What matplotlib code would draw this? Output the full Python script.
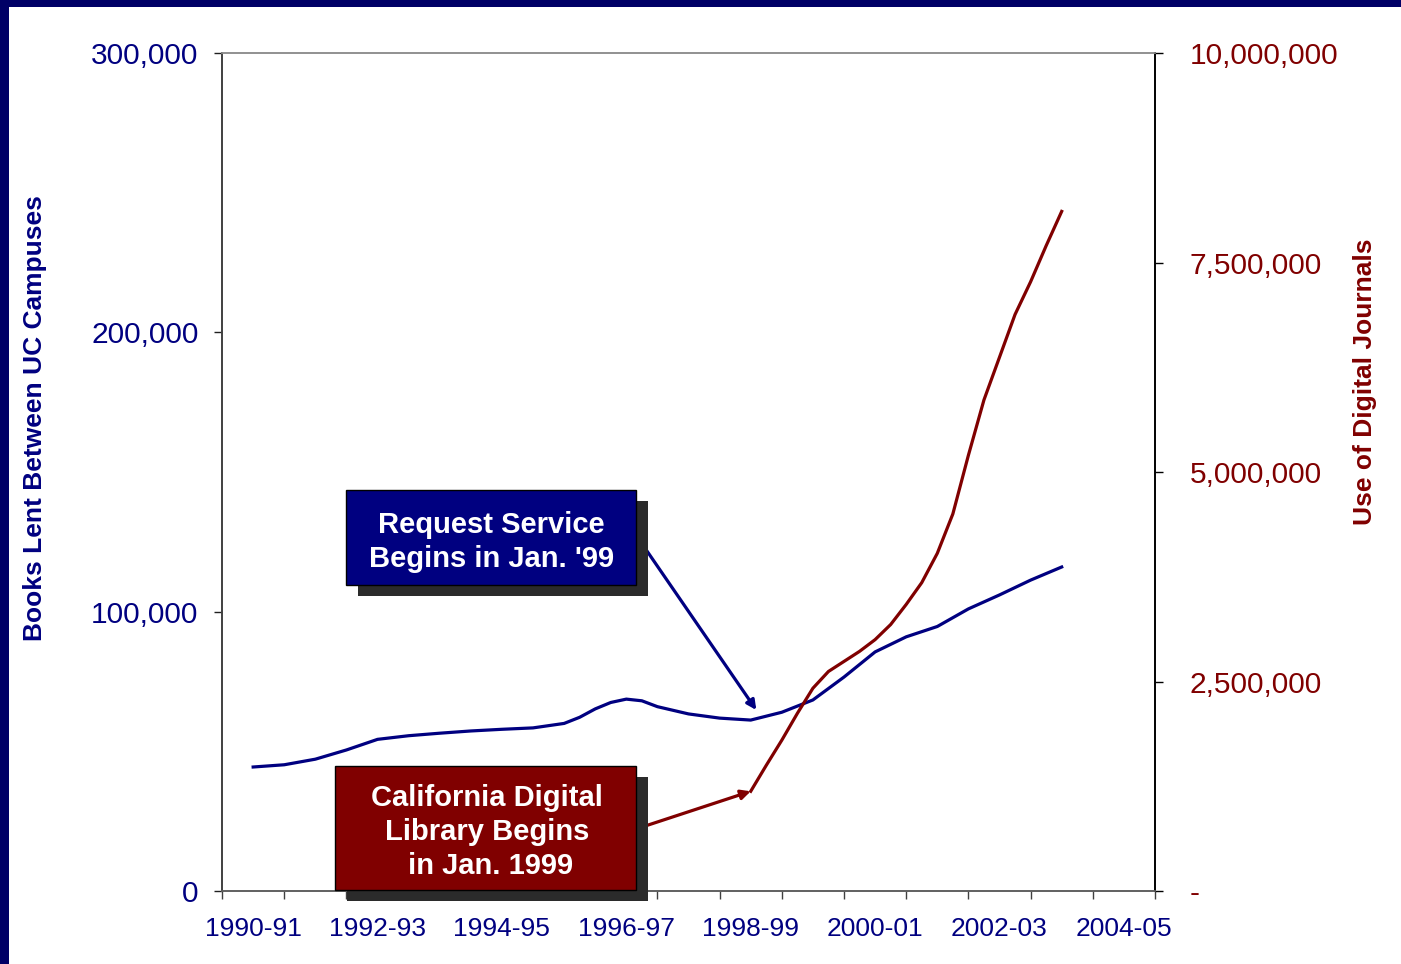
import matplotlib.pyplot as plt
from matplotlib.patches import Rectangle
from matplotlib.ticker import FuncFormatter
import numpy as np

plt.rcParams['font.family'] = ['Liberation Sans', 'DejaVu Sans']

# fiscal year categories
years = ['1990-91', '1991-92', '1992-93', '1993-94', '1994-95', '1995-96', '1996-97',
         '1997-98', '1998-99', '1999-00', '2000-01', '2001-02', '2002-03', '2003-04', '2004-05']

# books lent between campuses (half-year readings)
books_x = [0, 0.5, 1, 1.5, 2, 2.5, 3, 3.5, 4, 4.5, 5, 5.25, 5.5, 5.75, 6, 6.25, 6.5,
           7, 7.5, 8, 8.5, 9, 9.5, 10, 10.5, 11, 11.5, 12, 12.5, 13]
books = [44400, 45200, 47200, 50500, 54300, 55600, 56500, 57300, 57900, 58400, 60000,
         62200, 65200, 67500, 68700, 68100, 66000, 63400, 61900, 61200, 64000, 68400,
         76600, 85600, 91000, 94700, 101000, 106000, 111300, 116000]

# digital journal use (quarter-year readings)
journ_x = [8, 8.25, 8.5, 8.75, 9, 9.25, 9.5, 9.75, 10, 10.25, 10.5, 10.75, 11, 11.25,
           11.5, 11.75, 12, 12.25, 12.5, 12.75, 13]
journals = [1190000, 1500000, 1800000, 2120000, 2420000, 2620000, 2740000, 2860000,
            3000000, 3180000, 3420000, 3680000, 4030000, 4500000, 5200000, 5860000,
            6370000, 6880000, 7270000, 7700000, 8110000]

navy = '#000080'
maroon = '#800000'

fig = plt.figure(figsize=(14.01, 9.64), dpi=100)
ax = fig.add_axes([0.1585, 0.0757, 0.6659, 0.8693])
ax2 = ax.twinx()

ax.plot(books_x, books, color=navy, lw=2.3, solid_joinstyle='round')
ax2.plot(journ_x, journals, color=maroon, lw=2.3, solid_joinstyle='round')

ax.set_xlim(-0.5, len(years) - 0.5)
ax.set_ylim(0, 300000)
ax2.set_ylim(0, 10000000)

# x ticks on category boundaries, labels every other year
ax.set_xticks(np.arange(-0.5, len(years), 1))
ax.set_xticklabels([])
ax.set_xticks(np.arange(0, len(years), 2), minor=True)
ax.set_xticklabels(years[::2], minor=True)
ax.tick_params(axis='x', which='major', length=6, width=1, color='#404040', direction='out')
ax.tick_params(axis='x', which='minor', length=0, pad=19, labelsize=19, labelcolor=navy)

ax.set_yticks([0, 100000, 200000, 300000])
ax.yaxis.set_major_formatter(FuncFormatter(lambda v, p: f'{int(v):,}'))
ax.tick_params(axis='y', length=6, width=1, color='#202020', labelsize=21.5, labelcolor=navy, pad=11)

ax2.set_yticks([0, 2500000, 5000000, 7500000, 10000000])
ax2.yaxis.set_major_formatter(FuncFormatter(lambda v, p: '-' if v == 0 else f'{int(v):,}'))
ax2.tick_params(axis='y', length=6, width=1, color='black', labelsize=21.5, labelcolor=maroon, pad=19)

for a in (ax, ax2):
    a.spines['top'].set_color('#909090')
    a.spines['bottom'].set_color('#606060')
    a.spines['left'].set_color('#404040')
    a.spines['right'].set_color('black')
    for s in a.spines.values():
        s.set_linewidth(1.2)

fig.text(0.025, 0.566, 'Books Lent Between UC Campuses', rotation=90, ha='center', va='center',
         fontsize=19, fontweight='bold', color=navy)
fig.text(0.974, 0.604, 'Use of Digital Journals', rotation=90, ha='center', va='center',
         fontsize=19, fontweight='bold', color=maroon)

# callout boxes with drop shadows
def callout(x0, y0, x1, y1, face, text, tx, ty):
    dx, dy = 0.0129, -0.0131
    ax2.add_patch(Rectangle((x0 + dx, y0 + dy), x1 - x0, y1 - y0, transform=ax2.transAxes,
                            facecolor='#2b2b2b', edgecolor='none', clip_on=False, zorder=5))
    ax2.add_patch(Rectangle((x0, y0), x1 - x0, y1 - y0, transform=ax2.transAxes,
                            facecolor=face, edgecolor='black', lw=1, clip_on=False, zorder=6))
    ax2.text(tx, ty, text, transform=ax2.transAxes, ha='center', va='center', color='white',
             fontsize=21, fontweight='bold', linespacing=1.27, zorder=7)

callout(0.1329, 0.3652, 0.4437, 0.4785, navy, "Request Service\nBegins in Jan. '99", 0.289, 0.4165)
callout(0.1211, 0.0012, 0.4437, 0.1492, maroon, "California Digital\nLibrary Begins\n in Jan. 1999", 0.284, 0.0709)

ax2.annotate('', xy=(8.09, 64800 / 300000 * 10000000), xycoords='data',
             xytext=(0.4437, 0.4248), textcoords='axes fraction',
             arrowprops=dict(arrowstyle='-|>', color=navy, lw=2.3, mutation_scale=14,
                             shrinkA=0, shrinkB=0), zorder=4)
ax2.annotate('', xy=(8.0, 1190000), xycoords='data',
             xytext=(0.4437, 0.074), textcoords='axes fraction',
             arrowprops=dict(arrowstyle='-|>', color=maroon, lw=2.3, mutation_scale=14,
                             shrinkA=0, shrinkB=0), zorder=4)

# dark slide frame on left and top
fig.patches.append(Rectangle((0, 0), 9 / 1401, 1, transform=fig.transFigure,
                             facecolor='#000066', edgecolor='none'))
fig.patches.append(Rectangle((0, 1 - 7 / 964), 1, 7 / 964, transform=fig.transFigure,
                             facecolor='#000066', edgecolor='none'))

fig.savefig('out.png', dpi=100)
